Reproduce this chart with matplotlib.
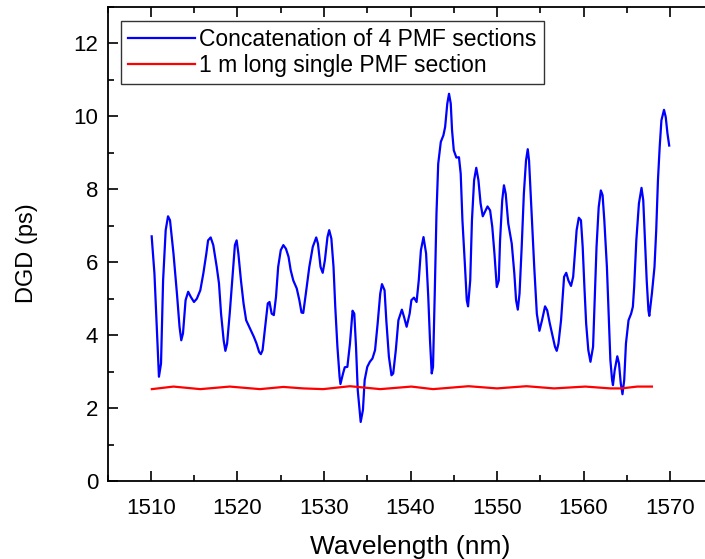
import matplotlib
matplotlib.use('Agg')
import matplotlib.pyplot as plt
from matplotlib.ticker import MultipleLocator

plt.rcParams['font.family'] = ['Liberation Sans', 'DejaVu Sans']

# blue trace: concatenation of 4 PMF sections
wl_cat = [1510.08, 1510.4, 1510.92, 1511.16, 1511.4, 1511.7, 1511.97, 1512.2, 1512.6, 1513.0,
          1513.3, 1513.5, 1513.7, 1514.0, 1514.3, 1514.6, 1514.97, 1515.3, 1515.7, 1516.05,
          1516.4, 1516.6, 1516.9, 1517.2, 1517.6, 1517.86, 1518.1, 1518.4, 1518.6, 1518.8,
          1519.1, 1519.5, 1519.7, 1519.9, 1520.1, 1520.4, 1520.7, 1521.0, 1521.45, 1521.9,
          1522.2, 1522.5, 1522.7, 1522.9, 1523.2, 1523.5, 1523.7, 1523.95, 1524.2, 1524.45,
          1524.7, 1525.0, 1525.3, 1525.6, 1525.9, 1526.15, 1526.45, 1526.85, 1527.15, 1527.4,
          1527.6, 1527.9, 1528.3, 1528.7, 1529.1, 1529.3, 1529.6, 1529.85, 1530.1, 1530.4,
          1530.6, 1530.85, 1531.1, 1531.3, 1531.55, 1531.8, 1531.9, 1532.2, 1532.4, 1532.7,
          1533.0, 1533.3, 1533.5, 1533.7, 1533.9, 1534.24, 1534.5, 1534.7, 1535.0, 1535.3,
          1535.6, 1535.9, 1536.2, 1536.5, 1536.7, 1537.0, 1537.2, 1537.5, 1537.8, 1538.0,
          1538.3, 1538.6, 1539.0, 1539.25, 1539.55, 1539.9, 1540.1, 1540.4, 1540.7, 1540.95,
          1541.2, 1541.5, 1541.8, 1542.05, 1542.25, 1542.45, 1542.6, 1542.8, 1543.0, 1543.2,
          1543.5, 1543.8, 1544.0, 1544.25, 1544.45, 1544.65, 1544.8, 1545.0, 1545.3, 1545.6,
          1545.8, 1546.0, 1546.3, 1546.5, 1546.65, 1546.9, 1547.1, 1547.35, 1547.6, 1547.85,
          1548.1, 1548.35, 1548.6, 1548.9, 1549.2, 1549.45, 1549.7, 1549.97, 1550.2, 1550.35,
          1550.6, 1550.8, 1551.0, 1551.3, 1551.7, 1552.0, 1552.2, 1552.4, 1552.6, 1552.85,
          1553.1, 1553.35, 1553.55, 1553.7, 1554.0, 1554.3, 1554.6, 1554.9, 1555.2, 1555.55,
          1555.8, 1556.1, 1556.45, 1556.7, 1556.9, 1557.1, 1557.4, 1557.75, 1558.0, 1558.25,
          1558.55, 1558.8, 1559.0, 1559.2, 1559.45, 1559.7, 1559.9, 1560.1, 1560.3, 1560.55,
          1560.8, 1561.1, 1561.3, 1561.5, 1561.75, 1562.0, 1562.2, 1562.4, 1562.7, 1562.9,
          1563.1, 1563.3, 1563.4, 1563.6, 1563.9, 1564.1, 1564.3, 1564.5, 1564.7, 1564.9,
          1565.2, 1565.5, 1565.7, 1565.85, 1566.1, 1566.4, 1566.7, 1566.9, 1567.1, 1567.3,
          1567.5, 1567.6, 1567.9, 1568.2, 1568.4, 1568.6, 1568.8, 1569.0, 1569.3, 1569.5,
          1569.7, 1569.9]
dgd_cat = [6.71, 5.69, 2.86, 3.22, 5.5, 6.88, 7.26, 7.15, 6.24, 5.14,
           4.23, 3.86, 4.05, 4.96, 5.19, 5.05, 4.91, 5.0, 5.23, 5.69,
           6.24, 6.6, 6.68, 6.47, 5.87, 5.42, 4.59, 3.86, 3.57, 3.77,
           4.59, 5.87, 6.47, 6.6, 6.24, 5.5, 4.87, 4.41, 4.18, 3.95,
           3.77, 3.54, 3.48, 3.59, 4.23, 4.87, 4.91, 4.59, 4.55, 5.05,
           5.87, 6.33, 6.47, 6.37, 6.15, 5.78, 5.5, 5.28, 4.96, 4.62,
           4.61, 5.14, 5.87, 6.42, 6.68, 6.51, 5.87, 5.71, 6.05, 6.69,
           6.88, 6.65, 5.87, 4.78, 3.68, 2.86, 2.66, 2.95, 3.12, 3.13,
           3.77, 4.67, 4.59, 3.68, 2.49, 1.62, 1.95, 2.77, 3.13, 3.27,
           3.36, 3.59, 4.32, 5.14, 5.4, 5.23, 4.41, 3.41, 2.9, 2.95,
           3.59, 4.41, 4.7, 4.5, 4.23, 4.59, 4.96, 5.03, 4.91, 5.5,
           6.33, 6.69, 6.24, 5.05, 3.86, 2.95, 3.13, 5.14, 7.33, 8.7,
           9.3, 9.48, 9.71, 10.35, 10.62, 10.35, 9.62, 9.07, 8.87, 8.88,
           8.43, 7.15, 5.87, 4.96, 4.79, 5.5, 7.15, 8.25, 8.59, 8.25,
           7.61, 7.26, 7.38, 7.53, 7.42, 6.97, 6.24, 5.32, 5.5, 6.6,
           7.7, 8.11, 7.88, 7.06, 6.51, 5.69, 4.96, 4.7, 5.14, 6.42,
           7.88, 8.79, 9.1, 8.79, 7.33, 5.87, 4.59, 4.12, 4.41, 4.79,
           4.68, 4.32, 3.95, 3.68, 3.57, 3.77, 4.41, 5.6, 5.71, 5.5,
           5.35, 5.6, 6.24, 6.88, 7.22, 7.15, 6.42, 5.32, 4.32, 3.59,
           3.27, 3.68, 5.05, 6.42, 7.51, 7.97, 7.84, 7.15, 5.87, 4.59,
           3.32, 2.77, 2.63, 3.04, 3.42, 3.22, 2.68, 2.38, 2.77, 3.77,
           4.41, 4.59, 4.78, 5.32, 6.6, 7.61, 8.04, 7.7, 6.6, 5.5,
           4.68, 4.53, 5.14, 5.87, 6.88, 8.25, 9.16, 9.89, 10.18, 9.98,
           9.53, 9.2]

# red trace: 1 m long single PMF section
wl_single = [1510.1, 1512.6, 1515.7, 1519.1, 1522.6, 1525.3, 1527.6, 1529.9, 1533.0, 1536.5,
             1540.1, 1542.6, 1546.7, 1550.0, 1553.4, 1556.6, 1560.2, 1563.1, 1564.4, 1566.2,
             1567.9]
dgd_single = [2.52, 2.59, 2.52, 2.59, 2.52, 2.58, 2.54, 2.52, 2.6, 2.52,
              2.59, 2.52, 2.6, 2.54, 2.6, 2.54, 2.59, 2.54, 2.54, 2.59,
              2.59]

label_cat = 'Concatenation of 4 PMF sections'
label_single = '1 m long single PMF section'

fig = plt.figure(figsize=(7.05, 5.59), dpi=100)
ax = fig.add_axes([0.1528, 0.1395, 0.859, 0.848])

ax.plot(wl_cat, dgd_cat, color='#0000ff', lw=1.6, label=label_cat)
ax.plot(wl_single, dgd_single, color='#ff0000', lw=1.6, label=label_single)

ax.set_xlim(1505, 1575)
ax.set_ylim(0, 13)
ax.xaxis.set_major_locator(MultipleLocator(10))
ax.xaxis.set_minor_locator(MultipleLocator(5))
ax.yaxis.set_major_locator(MultipleLocator(2))
ax.yaxis.set_minor_locator(MultipleLocator(1))
ax.tick_params(which='both', direction='in', top=True, right=False, width=1.2, labelsize=16)
ax.tick_params(which='major', length=7)
ax.tick_params(which='minor', length=4)
ax.tick_params(axis='x', pad=12)
ax.tick_params(axis='y', pad=7)
for s in ax.spines.values():
    s.set_linewidth(1.3)

ax.set_xlabel('Wavelength (nm)', fontsize=19, labelpad=12)
ax.set_ylabel('DGD (ps)', fontsize=17)
ax.yaxis.set_label_coords(-0.115, 0.48)

leg = ax.legend(loc='upper left', fontsize=16.5, frameon=True, fancybox=False,
                edgecolor='black', handlelength=2.9, handletextpad=0.2,
                borderaxespad=0.6, borderpad=0.3, labelspacing=0.15)
leg.get_frame().set_linewidth(1.0)

fig.savefig('out.png', dpi=100)
